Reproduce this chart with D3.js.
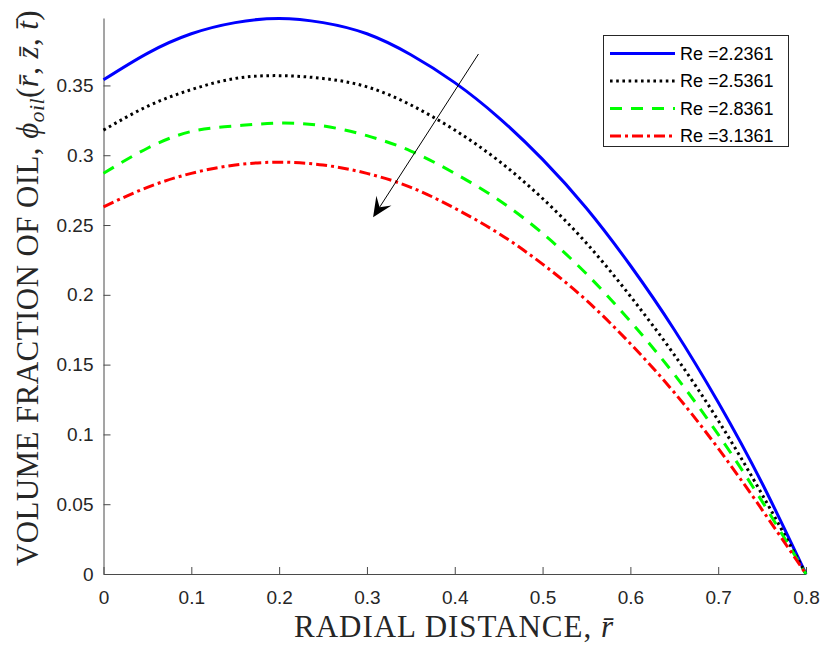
<!DOCTYPE html>
<html lang="en">
	<head>
		<meta charset="utf-8">
		<title>Volume fraction of oil</title>
		<script src="https://d3js.org/d3.v7.min.js"></script>
		<style>
			body { margin: 0; background: #fff; }
		</style>
	</head>
	<body>
		<script type="text/javascript">

			// data
			var rVals = [0, 0.05, 0.1, 0.15, 0.2, 0.25, 0.3, 0.35, 0.4, 0.45, 0.5, 0.55, 0.6, 0.65, 0.7, 0.75, 0.8];
			var phiRe1 = [0.354, 0.373, 0.387, 0.395, 0.398, 0.395, 0.387, 0.372, 0.352, 0.327, 0.297, 0.262, 0.221, 0.175, 0.123, 0.065, 0];
			var phiRe2 = [0.318, 0.335, 0.347, 0.355, 0.357, 0.355, 0.349, 0.336, 0.318, 0.296, 0.269, 0.237, 0.199, 0.157, 0.110, 0.057, 0];
			var phiRe3 = [0.287, 0.305, 0.317, 0.321, 0.323, 0.321, 0.314, 0.303, 0.287, 0.268, 0.244, 0.215, 0.181, 0.143, 0.100, 0.052, 0];
			var phiRe4 = [0.263, 0.277, 0.287, 0.293, 0.295, 0.293, 0.287, 0.277, 0.262, 0.244, 0.222, 0.196, 0.165, 0.130, 0.090, 0.046, 0];
			var reLabels = ["Re =2.2361", "Re =2.5361", "Re =2.8361", "Re =3.1361"];
			var xTicks = [0, 0.1, 0.2, 0.3, 0.4, 0.5, 0.6, 0.7, 0.8];
			var yTicks = [0, 0.05, 0.1, 0.15, 0.2, 0.25, 0.3, 0.35];
			// arrow annotation, data coords [start, end]
			var arrowX = [0.427, 0.307];
			var arrowY = [0.3725, 0.2555];

			var w = 823;
			var h = 646;

			var series = [
				{vals: phiRe1, color: "#0000ff", dash: null},
				{vals: phiRe2, color: "#000000", dash: "2.6,3.6"},
				{vals: phiRe3, color: "#00ff00", dash: "12,9"},
				{vals: phiRe4, color: "#ff0000", dash: "11,4,3,4"}
			];

			var xScale = d3.scaleLinear().domain([0, 0.8]).range([103.5, 806]);
			var yScale = d3.scaleLinear().domain([0, 0.3983]).range([574, 18]);

			var svg = d3.select("body").append("svg")
				.attr("width", w).attr("height", h)
				.style("font-family", "'Liberation Sans', Arial, sans-serif");

			// axes (ticks point inward)
			var xAxis = d3.axisBottom(xScale).tickValues(xTicks)
				.tickFormat(function(d) { return +d.toFixed(2); })
				.tickSizeInner(-7).tickSizeOuter(0).tickPadding(17);
			var yAxis = d3.axisLeft(yScale).tickValues(yTicks)
				.tickFormat(function(d) { return +d.toFixed(2); })
				.tickSizeInner(-7).tickSizeOuter(0).tickPadding(10);

			var gx = svg.append("g").attr("transform", "translate(0," + yScale(0) + ")").call(xAxis);
			var gy = svg.append("g").attr("transform", "translate(" + xScale(0) + ",0)").call(yAxis);

			[gx, gy].forEach(function(g) {
				g.selectAll("path, line").attr("stroke", "#4a4a4a");
				g.selectAll("text").attr("fill", "#262626")
					.style("font-size", "19px")
					.style("font-family", "'Liberation Sans', Arial, sans-serif");
			});

			// curves
			var line = d3.line()
				.x(function(d, i) { return xScale(rVals[i]); })
				.y(function(d) { return yScale(d); })
				.curve(d3.curveNatural);

			series.forEach(function(s) {
				svg.append("path")
					.attr("d", line(s.vals))
					.attr("fill", "none")
					.attr("stroke", s.color)
					.attr("stroke-width", 3)
					.attr("stroke-dasharray", s.dash);
			});

			// arrow
			var ax0 = xScale(arrowX[0]), ay0 = yScale(arrowY[0]);
			var ax1 = xScale(arrowX[1]), ay1 = yScale(arrowY[1]);
			var ang = Math.atan2(ay1 - ay0, ax1 - ax0);
			var headLen = 20, headW = 9, back = 12;
			function pt(l, s) {
				return [ax1 - l * Math.cos(ang) - s * Math.sin(ang),
				        ay1 - l * Math.sin(ang) + s * Math.cos(ang)];
			}
			svg.append("line")
				.attr("x1", ax0).attr("y1", ay0)
				.attr("x2", pt(back, 0)[0]).attr("y2", pt(back, 0)[1])
				.attr("stroke", "#000").attr("stroke-width", 1);
			svg.append("path")
				.attr("d", "M" + [ax1, ay1] + "L" + pt(headLen, headW) + "L" + pt(back, 0) + "L" + pt(headLen, -headW) + "Z")
				.attr("fill", "#000");

			// legend
			var leg = svg.append("g");
			leg.append("rect")
				.attr("x", 603.5).attr("y", 35.5).attr("width", 185).attr("height", 111)
				.attr("fill", "#fff").attr("stroke", "#262626").attr("stroke-width", 1);
			series.forEach(function(s, i) {
				var yy = 53.5 + i * 27.5;
				leg.append("line")
					.attr("x1", 610).attr("x2", 675).attr("y1", yy).attr("y2", yy)
					.attr("stroke", s.color).attr("stroke-width", 3)
					.attr("stroke-dasharray", s.dash);
				leg.append("text")
					.attr("x", 680).attr("y", yy).attr("dy", "0.35em")
					.style("font-size", "18px").attr("fill", "#000")
					.text(reLabels[i]);
			});

			// axis labels
			var serif = "'Liberation Serif', 'Times New Roman', serif";
			var xl = svg.append("text")
				.attr("x", 454).attr("y", 637)
				.attr("text-anchor", "middle")
				.style("font-family", serif).style("font-size", "31px")
				.style("letter-spacing", "1px")
				.attr("fill", "#262626");
			xl.append("tspan").text("RADIAL DISTANCE, ");
			xl.append("tspan").style("font-style", "italic").text("r\u0304");

			var yl = svg.append("text")
				.attr("transform", "translate(38,288) rotate(-90)")
				.attr("text-anchor", "middle")
				.style("font-family", serif).style("font-size", "31px")
				.style("letter-spacing", "0.4px")
				.attr("fill", "#262626");
			yl.append("tspan").text("VOLUME FRACTION OF OIL, ");
			yl.append("tspan").style("font-style", "italic").text("\u03d5");
			yl.append("tspan").style("font-style", "italic").style("font-size", "22px").attr("dy", 6).text("oil");
			yl.append("tspan").attr("dy", -6).text("(");
			yl.append("tspan").style("font-style", "italic").text("r\u0304");
			yl.append("tspan").text(", ");
			yl.append("tspan").style("font-style", "italic").text("z\u0304");
			yl.append("tspan").text(", ");
			yl.append("tspan").style("font-style", "italic").text("t\u0304");
			yl.append("tspan").text(")");

		</script>
	</body>
</html>
